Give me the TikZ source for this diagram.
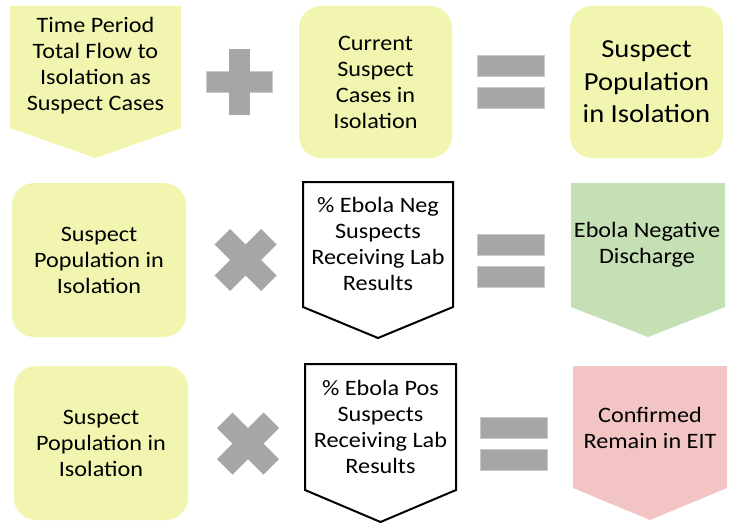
\documentclass[tikz,border=0pt]{standalone}
\usepackage{fontspec}
\setmainfont{Carlito}[FakeStretch=1.1]
\definecolor{boxyellow}{HTML}{F2F5B0}
\definecolor{boxgreen}{HTML}{C5E0B4}
\definecolor{boxpink}{HTML}{F2C4C3}
\definecolor{opgray}{HTML}{A6A6A6}
\tikzset{
  txt/.style={align=center, font=\fontsize{22}{26}\selectfont, inner sep=0pt},
  ybox/.style={fill=boxyellow, rounded corners=22pt, inner sep=0pt, align=center,
    font=\fontsize{22}{26}\selectfont},
  bigbox/.style={ybox, font=\fontsize{26}{32.5}\selectfont},
  opfill/.style={fill=opgray, draw=opgray!60!white, line width=0.6pt},
  plussign/.pic={
    \path[opfill] (-33,-10.5) rectangle (33,10.5);
    \path[fill=opgray] (-10.5,-33) rectangle (10.5,33);
  },
  eqsign/.pic={
    \path[opfill] (-33.5,-26.5) rectangle (33.5,-5.5);
    \path[opfill] (-33.5,5.5) rectangle (33.5,26.5);
  },
  timessign/.pic={
    \path[fill=opgray] (-15.5,-31) -- (0,-15.5) -- (15.5,-31) -- (31,-15.5)
      -- (15.5,0) -- (31,15.5) -- (15.5,31) -- (0,15.5) -- (-15.5,31)
      -- (-31,15.5) -- (-15.5,0) -- (-31,-15.5) -- cycle;
  }
}
\begin{document}
\begin{tikzpicture}[x=1pt,y=-1pt]
\useasboundingbox (0,0) rectangle (731,524);

% ---- row 1: flow + current = population
\fill[boxyellow] (10,6) -- (181,6) -- (181,128) -- (95.5,158) -- (10,128) -- cycle;
\node[txt] (flow) at (95.5,66) {Time Period\\Total Flow to\\Isolation as\\Suspect Cases};
\pic at (239.5,82) {plussign};
\node[ybox, minimum width=153pt, minimum height=152pt] (current) at (375.5,82)
  {Current\\Suspect\\Cases in\\Isolation};
\pic at (510.5,81.5) {eqsign};
\node[bigbox, minimum width=153pt, minimum height=152pt] (pop) at (646.5,82)
  {Suspect\\Population\\in Isolation};

% ---- row 2: population x % negative = discharge
\node[ybox, minimum width=174pt, minimum height=154pt] (popneg) at (99,260)
  {Suspect\\Population in\\Isolation};
\pic at (245.5,260) {timessign};
\draw[fill=white, line width=2pt, line join=miter]
  (303,182) -- (453,182) -- (453,307) -- (378,338) -- (303,307) -- cycle;
\node[txt] (pneg) at (378,244) {\% Ebola Neg\\Suspects\\Receiving Lab\\Results};
\pic at (511,260.5) {eqsign};
\fill[boxgreen] (571,183) -- (725,183) -- (725,307) -- (648,337) -- (571,307) -- cycle;
\node[txt] (discharge) at (647,245) {Ebola Negative\\Discharge};

% ---- row 3: population x % positive = confirmed
\node[ybox, minimum width=174pt, minimum height=154pt] (poppos) at (101,443)
  {Suspect\\Population in\\Isolation};
\pic at (248,443.5) {timessign};
\draw[fill=white, line width=2pt, line join=miter]
  (305,364) -- (456,364) -- (456,490) -- (380.5,522) -- (305,490) -- cycle;
\node[txt] (ppos) at (380.5,427) {\% Ebola Pos\\Suspects\\Receiving Lab\\Results};
\pic at (513.5,443.5) {eqsign};
\fill[boxpink] (573,366) -- (727,366) -- (727,488) -- (650,520) -- (573,488) -- cycle;
\node[txt] (confirmed) at (650,428) {Confirmed\\Remain in EIT};
\end{tikzpicture}
\end{document}
